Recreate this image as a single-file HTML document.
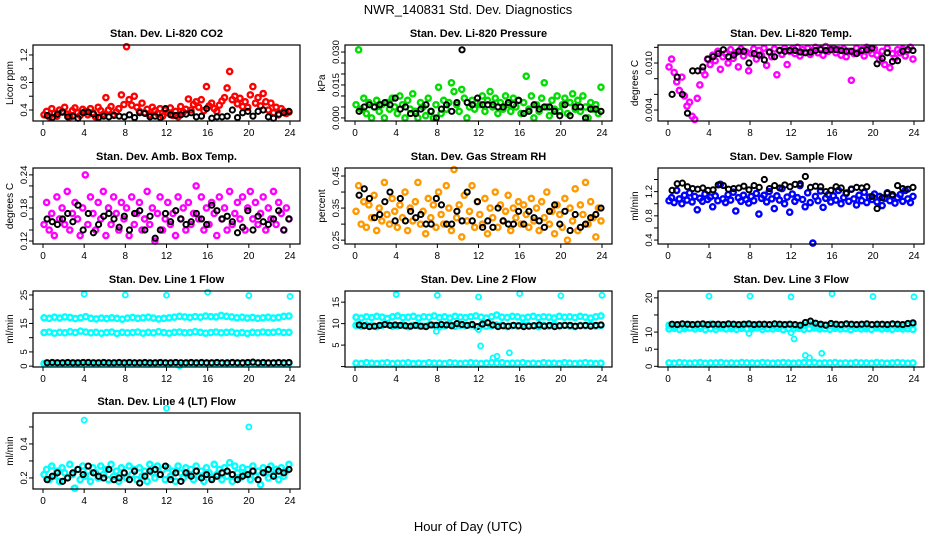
<!DOCTYPE html>
<html><head><meta charset="utf-8"><style>
body{margin:0;background:#fff}
svg{display:block;font-family:"Liberation Sans",sans-serif}
</style></head><body>
<svg id="chart" width="936" height="540" viewBox="0 0 936 540">
<text x="468" y="14" text-anchor="middle" font-size="13">NWR_140831  Std. Dev. Diagnostics</text>
<text x="468" y="531" text-anchor="middle" font-size="13">Hour of Day (UTC)</text>
</svg>
<script>
// ---- data ----
const xTicks=[0,4,8,12,16,20,24];
const co2Red=[0.33,0.38,0.30,0.42,0.35,0.31,0.40,0.37,0.44,0.34,0.30,0.39,0.43,0.36,0.32,0.41,
0.38,0.33,0.42,0.36,0.30,0.44,0.39,0.34,0.58,0.40,0.45,0.33,0.37,0.42,0.62,0.48,
1.32,0.55,0.47,0.60,0.44,0.38,0.50,0.36,0.41,0.33,0.44,0.39,0.35,0.42,0.31,0.40,
0.36,0.43,0.32,0.38,0.30,0.45,0.37,0.41,0.56,0.40,0.48,0.52,0.44,0.55,0.39,0.74,
0.46,0.50,0.42,0.38,0.47,0.53,0.58,0.72,0.96,0.55,0.60,0.49,0.57,0.45,0.52,0.44,
0.62,0.74,0.50,0.58,0.46,0.64,0.52,0.40,0.50,0.36,0.44,0.33,0.42,0.38,0.35,0.37];
const co2Black=[0.32,0.29,0.34,0.37,0.30,0.31,0.28,0.36,0.37,0.34,0.29,0.31,0.30,0.32,0.31,0.30,0.33,0.29,0.36,0.35,0.30,0.31,0.29,0.42,0.33,0.32,0.33,0.34,0.36,0.30,0.31,0.42,0.28,0.30,0.30,0.31,0.40,0.29,0.36,0.38,0.31,0.38,0.40,0.30,0.28,0.34,0.36,0.38];
const presGreen=[0.006,0.031,0.004,0.009,0.002,0.007,0.000,0.005,0.008,0.003,0.006,0.000,0.007,0.004,0.009,0.005,
0.002,0.010,0.006,0.000,0.008,0.004,0.011,0.003,0.000,0.007,0.005,0.001,0.009,0.003,0.000,0.006,
0.014,0.002,0.008,0.004,0.007,0.016,0.012,0.006,0.003,0.013,0.009,0.000,0.005,0.008,0.004,0.007,
0.006,0.010,0.003,0.008,0.012,0.005,0.009,0.002,0.007,0.004,0.010,0.006,0.003,0.009,0.005,0.008,
0.002,0.007,0.019,0.004,0.010,0.000,0.006,0.003,0.009,0.016,0.005,0.001,0.008,0.004,0.010,0.003,
0.006,0.009,0.002,0.007,0.011,0.004,0.008,0.003,0.010,0.005,0.000,0.007,0.004,0.006,0.002,0.014];
const presBlack=[0.003,0.005,0.006,0.005,0.006,0.007,0.006,0.009,0.004,0.005,0.002,0.002,0.004,0.006,0.003,0.000,0.004,0.006,0.003,0.007,0.031,0.007,0.006,0.009,0.006,0.006,0.006,0.005,0.005,0.007,0.006,0.008,0.002,0.003,0.006,0.004,0.005,0.005,0.003,0.001,0.006,0.001,0.005,0.005,0.000,0.004,0.004,0.003];
const tempMag=[0.0095,0.0105,0.0088,0.0076,0.0065,0.0082,0.0058,0.0045,0.0050,0.0032,0.0028,0.0055,0.0072,0.0090,0.0085,0.0105,
0.0098,0.0110,0.0103,0.0115,0.0092,0.0108,0.0112,0.0100,0.0117,0.0106,0.0113,0.0095,0.0118,0.0109,0.0114,0.0090,
0.0112,0.0118,0.0105,0.0116,0.0110,0.0119,0.0097,0.0114,0.0108,0.0118,0.0085,0.0116,0.0111,0.0119,0.0098,0.0115,
0.0118,0.0112,0.0120,0.0109,0.0117,0.0114,0.0119,0.0111,0.0116,0.0120,0.0113,0.0118,0.0110,0.0121,0.0115,0.0118,
0.0119,0.0113,0.0117,0.0110,0.0118,0.0108,0.0115,0.0078,0.0112,0.0119,0.0114,0.0117,0.0109,0.0120,0.0116,0.0112,
0.0118,0.0110,0.0104,0.0115,0.0098,0.0119,0.0094,0.0112,0.0106,0.0117,0.0113,0.0118,0.0109,0.0116,0.0120,0.0105];
const tempBlack=[0.0060,0.0082,0.0060,0.0036,0.0090,0.0090,0.0095,0.0105,0.0108,0.0112,0.0117,0.0108,0.0110,0.0115,0.0115,0.0100,0.0112,0.0110,0.0104,0.0114,0.0108,0.0116,0.0115,0.0116,0.0116,0.0114,0.0113,0.0114,0.0116,0.0117,0.0116,0.0117,0.0117,0.0116,0.0115,0.0115,0.0112,0.0116,0.0117,0.0119,0.0099,0.0106,0.0113,0.0102,0.0103,0.0115,0.0117,0.0116];
const ambMag=[0.15,0.19,0.14,0.17,0.13,0.20,0.16,0.18,0.15,0.21,0.14,0.17,0.19,0.16,0.13,0.18,
0.24,0.15,0.20,0.17,0.14,0.19,0.16,0.21,0.13,0.18,0.15,0.20,0.17,0.14,0.19,0.16,
0.18,0.13,0.20,0.15,0.17,0.19,0.14,0.16,0.21,0.15,0.18,0.12,0.17,0.20,0.14,0.16,
0.19,0.15,0.17,0.13,0.20,0.16,0.18,0.14,0.19,0.15,0.17,0.22,0.16,0.20,0.14,0.18,
0.15,0.19,0.17,0.13,0.20,0.16,0.18,0.14,0.21,0.15,0.17,0.19,0.16,0.20,0.14,0.18,
0.21,0.16,0.19,0.15,0.17,0.20,0.14,0.18,0.16,0.21,0.15,0.19,0.17,0.14,0.18,0.16];
const ambBlack=[0.16,0.155,0.15,0.16,0.17,0.155,0.185,0.14,0.17,0.135,0.15,0.165,0.17,0.16,0.145,0.165,0.14,0.17,0.175,0.14,0.165,0.125,0.14,0.17,0.155,0.175,0.16,0.15,0.155,0.17,0.16,0.15,0.185,0.175,0.16,0.165,0.155,0.135,0.145,0.175,0.14,0.165,0.155,0.15,0.16,0.175,0.14,0.16];
const rhOrange=[0.34,0.42,0.30,0.37,0.29,0.36,0.32,0.39,0.28,0.35,0.31,0.43,0.33,0.30,0.38,0.34,
0.29,0.36,0.32,0.40,0.28,0.35,0.31,0.37,0.43,0.30,0.34,0.27,0.38,0.32,0.36,0.29,
0.40,0.33,0.30,0.42,0.35,0.28,0.47,0.32,0.36,0.26,0.39,0.31,0.34,0.42,0.29,0.37,
0.33,0.30,0.38,0.27,0.35,0.32,0.40,0.29,0.36,0.31,0.34,0.39,0.28,0.35,0.32,0.37,
0.30,0.36,0.33,0.29,0.38,0.31,0.35,0.28,0.37,0.32,0.40,0.30,0.34,0.27,0.36,0.33,
0.29,0.38,0.25,0.35,0.31,0.41,0.28,0.36,0.33,0.43,0.30,0.37,0.32,0.26,0.35,0.31];
const rhBlack=[0.39,0.41,0.38,0.32,0.33,0.37,0.40,0.31,0.38,0.31,0.34,0.32,0.33,0.30,0.30,0.38,0.36,0.30,0.30,0.34,0.31,0.40,0.31,0.37,0.29,0.31,0.29,0.35,0.31,0.30,0.30,0.34,0.30,0.34,0.32,0.31,0.29,0.34,0.36,0.30,0.34,0.28,0.33,0.29,0.30,0.32,0.33,0.35];
const flowBlue=[1.05,1.10,1.02,1.22,1.08,1.00,1.14,1.06,1.18,1.03,1.12,0.90,1.09,1.04,1.16,1.07,
1.11,0.95,1.13,1.05,1.32,1.08,1.02,1.15,1.06,1.19,0.88,1.10,1.04,1.14,1.07,1.01,
1.12,1.05,1.17,0.83,1.09,1.14,1.03,1.20,1.08,0.92,1.13,1.06,1.25,1.00,1.11,0.86,
1.16,1.04,1.10,1.30,1.07,0.95,1.18,1.02,0.35,1.12,1.05,1.21,0.94,1.09,1.15,1.03,
1.13,1.06,1.22,1.00,1.10,1.17,1.04,1.24,1.08,0.98,1.14,1.05,1.19,1.02,1.11,1.07,
1.16,1.03,1.12,0.97,1.09,1.18,1.05,1.13,1.01,1.10,1.15,1.04,1.22,1.08,1.02,1.12];
const flowBlack=[1.22,1.33,1.34,1.28,1.25,1.24,1.26,1.22,1.23,1.31,1.30,1.24,1.25,1.26,1.29,1.23,1.30,1.27,1.40,1.25,1.30,1.26,1.31,1.28,1.32,1.33,1.45,1.27,1.29,1.28,1.20,1.22,1.28,1.26,1.18,1.24,1.27,1.26,1.28,1.12,0.92,1.10,1.17,1.15,1.30,1.25,1.24,1.27];
const l1Hi=[17.0,16.8,17.2,16.9,17.3,17.1,16.7,17.0,17.4,16.8,16.6,16.9,16.7,17.0,16.8,16.5,16.9,17.1,16.8,17.0,17.2,16.9,16.6,16.8,17.0,17.2,17.5,17.3,17.1,17.4,17.2,17.6,17.4,17.3,17.8,17.5,17.3,17.0,17.2,16.9,17.1,16.8,17.0,17.2,16.9,17.1,17.5,17.6];
const l1Mid=[11.8,12.0,11.6,11.9,11.7,12.1,11.8,12.3,12.0,11.7,11.9,11.6,11.8,12.0,11.5,11.9,11.7,11.8,12.0,11.6,11.9,11.7,12.1,11.8,11.6,11.9,12.0,11.7,11.8,12.1,11.9,11.6,11.8,12.0,11.7,11.9,12.0,11.6,11.8,11.5,11.9,11.7,12.0,11.8,11.9,12.1,11.8,11.9];
const l1Low=[0.9,0.8,1.0,0.9,0.8,0.9,1.0,0.8,0.9,0.9,1.0,0.8,0.9,0.8,1.0,0.9,0.9,0.8,1.0,0.9,0.8,0.9,1.0,0.9,0.8,0.9,0.2,0.9,1.0,0.8,0.9,0.9,1.0,0.8,0.9,0.8,1.0,0.9,0.9,0.8,1.0,0.9,0.8,0.9,1.0,0.9,0.8,0.9];
const l1Black=[1.2,1.3,1.2,1.2,1.3,1.2,1.2,1.3,1.3,1.2,1.2,1.3,1.2,1.2,1.3,1.2,1.3,1.2,1.2,1.3,1.2,1.2,1.3,1.2,1.2,1.3,1.2,1.2,1.3,1.2,1.3,1.2,1.2,1.3,1.2,1.2,1.3,1.2,1.2,1.3,1.4,1.2,1.3,1.2,1.2,1.3,1.2,1.3];
const l1OutHours=[4,8,12,16,20,24];
const l1OutVals=[25.3,25.0,24.9,26.0,24.8,24.5];
const l2Hi=[11.5,11.3,11.6,11.4,11.7,11.5,11.2,11.6,11.8,11.4,11.5,11.7,11.3,11.6,11.5,11.8,11.4,11.6,11.3,11.7,11.5,11.4,11.6,11.8,11.5,11.3,11.6,12.0,11.5,11.4,11.7,11.6,11.3,11.5,11.7,11.4,11.6,11.5,11.3,11.7,11.5,11.6,11.4,11.7,11.5,11.3,11.6,11.8];
const l2Mid=[9.6,9.4,9.7,9.5,9.3,9.6,9.8,9.4,9.5,9.7,9.3,9.6,9.5,9.4,9.7,9.6,9.3,9.5,9.8,9.4,9.6,9.5,9.7,9.3,9.6,9.4,9.5,9.7,9.6,9.3,9.5,9.4,9.7,9.6,9.5,9.3,9.6,9.4,9.7,9.5,9.6,9.4,9.3,9.6,9.5,9.7,9.4,9.6];
const l2Low=[0.8,0.7,0.9,0.8,0.7,0.8,0.9,0.7,0.8,0.8,0.9,0.7,0.8,0.7,0.9,0.8,0.8,0.7,0.9,0.8,0.7,0.8,0.9,0.8,0.7,0.8,0.9,0.8,0.9,0.7,0.8,0.8,0.9,0.7,0.8,0.7,0.9,0.8,0.8,0.7,0.9,0.8,0.7,0.8,0.9,0.8,0.7,0.8];
const l2Black=[9.7,9.5,9.3,9.4,9.6,9.8,9.6,9.7,9.6,9.5,9.4,9.6,9.4,9.3,9.7,9.6,9.8,9.7,9.5,10.0,9.8,9.6,9.8,9.3,9.9,10.2,9.7,9.3,9.5,9.4,9.6,9.5,9.3,9.4,9.5,9.7,9.4,9.6,9.3,9.5,9.6,9.6,9.4,9.5,9.6,9.4,9.6,9.7];
const l2OutHours=[4,8,12,16,20,24,12.2,13.4,13.8,15.0,7.9,12.0];
const l2OutVals=[16.8,16.6,16.2,17.0,16.5,16.6,4.8,2.0,2.4,3.2,8.2,8.6];
const l3Hi=[12.0,11.8,12.1,11.7,12.2,11.9,11.6,12.0,12.3,11.8,11.9,12.1,11.7,12.0,11.9,12.2,11.8,12.0,11.7,12.1,11.9,11.8,12.0,12.2,11.9,11.7,12.0,12.4,11.9,11.8,12.1,12.0,11.7,11.9,12.1,11.8,12.0,11.9,11.7,12.1,11.9,12.0,11.8,12.1,11.9,11.7,12.0,12.2];
const l3Mid=[10.9,11.1,10.8,11.0,11.2,10.9,11.1,10.7,11.0,10.8,11.2,10.9,11.0,10.8,11.1,10.9,11.0,11.2,10.8,11.0,10.9,11.1,10.7,11.0,10.9,11.1,10.8,11.0,11.2,10.9,11.0,10.8,11.1,10.9,11.0,10.7,11.1,10.9,11.0,10.8,11.2,10.9,11.0,10.8,11.1,10.9,11.0,10.8];
const l3Low=[1.0,0.9,1.1,1.0,0.9,1.0,1.1,0.9,1.0,1.0,1.1,0.9,1.0,0.9,1.1,1.0,1.0,0.9,1.1,1.0,0.9,1.0,1.1,1.0,0.9,1.0,1.1,1.0,1.1,0.9,1.0,1.0,1.1,0.9,1.0,0.9,1.1,1.0,1.0,0.9,1.1,1.0,0.9,1.0,1.1,1.0,0.9,1.0];
const l3Black=[12.3,12.2,12.4,12.3,12.2,12.3,12.4,12.2,12.3,12.3,12.2,12.4,12.3,12.2,12.3,12.4,12.2,12.3,12.3,12.2,12.4,12.3,12.2,12.3,12.2,12.0,12.8,13.2,12.6,12.3,12.0,12.5,12.3,12.2,12.4,12.3,12.2,12.3,12.4,12.2,12.3,12.3,12.2,12.4,12.3,12.2,12.5,12.7];
const l3OutHours=[4,8,12,16,20,24,12.3,13.4,13.8,15.0,7.9,12.0];
const l3OutVals=[20.5,20.5,20.3,21.2,20.4,20.3,8.0,3.2,2.5,3.8,9.6,9.8];
const l4Cyan=[0.22,0.25,0.19,0.27,0.21,0.24,0.18,0.26,0.23,0.20,0.28,0.22,0.14,0.25,0.19,0.27,
0.21,0.24,0.18,0.26,0.23,0.20,0.27,0.22,0.25,0.19,0.28,0.21,0.24,0.18,0.26,0.23,
0.20,0.27,0.22,0.25,0.19,0.26,0.21,0.24,0.18,0.28,0.23,0.20,0.27,0.22,0.25,0.19,
0.26,0.21,0.24,0.18,0.27,0.23,0.20,0.26,0.22,0.25,0.19,0.27,0.21,0.24,0.18,0.26,
0.23,0.20,0.28,0.22,0.25,0.19,0.26,0.21,0.29,0.18,0.27,0.23,0.20,0.26,0.22,0.25,
0.19,0.27,0.21,0.24,0.16,0.26,0.23,0.20,0.27,0.22,0.25,0.19,0.26,0.21,0.24,0.28];
const l4Black=[0.19,0.21,0.23,0.18,0.20,0.23,0.25,0.22,0.27,0.23,0.21,0.20,0.25,0.19,0.20,0.23,0.19,0.24,0.17,0.21,0.24,0.25,0.22,0.27,0.19,0.23,0.18,0.23,0.21,0.24,0.20,0.22,0.19,0.21,0.23,0.24,0.22,0.19,0.21,0.22,0.24,0.19,0.23,0.25,0.21,0.24,0.23,0.25];
const l4OutHours=[4,12,20,3];
const l4OutVals=[0.54,0.61,0.50,0.14];

// ---- drawing ----
const NS='http://www.w3.org/2000/svg';
const svg=document.getElementById('chart');
function mk(tag,attrs,parent){const e=document.createElementNS(NS,tag);for(const k in attrs)e.setAttribute(k,attrs[k]);(parent||svg).appendChild(e);return e;}
const colX0=[43,355,668], colX24=[290,602,914], rowTop=[45,168,291,413], H=76;

function panel(p){
  const x0=colX0[p.col],x24=colX24[p.col],top=rowTop[p.row],bot=top+H;
  const left=x0-10,right=x24+10;
  const xs=h=>x0+(h/24)*(x24-x0);
  const ys=v=>bot-(v-p.ymin)/(p.ymax-p.ymin)*H;
  const g=mk('g',{});
  
  
  const t=mk('text',{x:(left+right)/2,y:top-8,'text-anchor':'middle','font-size':11,'font-weight':'bold'},g);
  
  
  t.textContent=p.title;
  const yt=mk('text',{x:0,y:0,'text-anchor':'middle','font-size':10,transform:`translate(${left-20},${(top+bot)/2}) rotate(-90)`},g);
  
  
  yt.textContent=p.ylab;
  xTicks.forEach(h=>{
    const X=xs(h);
    const tk=mk('line',{x1:X,x2:X,y1:bot,y2:bot+4,stroke:'#000','stroke-width':1},g);
    
    
    const l=mk('text',{x:X,y:bot+15,'text-anchor':'middle','font-size':10},g);
    
    
    l.textContent=h;
  });
  p.yticks.forEach((v,i)=>{
    const Y=ys(v);
    const tk=mk('line',{x1:left,x2:left-4,y1:Y,y2:Y,stroke:'#000','stroke-width':1},g);
    
    
    if(p.ylabels[i]){
      const l=mk('text',{x:0,y:0,'text-anchor':'middle','font-size':9.5,transform:`translate(${left-6},${Y}) rotate(-90)`},g);
      
      
      l.textContent=p.ylabels[i];
    }
  });
  const cg=mk('g',{},g);
  p.series.forEach(s=>{
    const n=s.vals.length;
    s.vals.forEach((v,i)=>{
      const h=s.start+i*(s.end-s.start)/(n-1);
      const c=mk('circle',{cx:xs(h),cy:ys(v),r:2.6,fill:'none',stroke:s.color,'stroke-width':s.w||2.2},cg);
      
      
    });
  });
  (p.out||[]).forEach(o=>{
    o.hours.forEach((h,i)=>{
      const c=mk('circle',{cx:xs(h),cy:ys(o.vals[i]),r:2.5,fill:'none',stroke:o.color,'stroke-width':1.8},cg);
      
      
    });
  });
  const box=mk('rect',{x:left,y:top,width:right-left,height:H,fill:'none',stroke:'#000','stroke-width':1.2},g);
  
  
}
const C=(vals,color,start,end)=>({vals,color,start:start??0.1,end:end??23.9,w:2.4});
const K=vals=>({vals,color:'#000',start:0.4,end:23.9,w:2});
panel({name:'co2',col:0,row:0,title:'Stan. Dev. Li-820 CO2',ylab:'Licor ppm',ymin:0.24,ymax:1.345,yticks:[0.4,0.6,0.8,1.0,1.2],ylabels:['0.4','','0.8','','1.2'],series:[C(co2Red,'#ff0000'),K(co2Black)]});
panel({name:'pressure',col:1,row:0,title:'Stan. Dev. Li-820 Pressure',ylab:'kPa',ymin:-0.0014,ymax:0.0332,yticks:[0,0.005,0.01,0.015,0.02,0.025,0.03],ylabels:['0.000','','','0.015','','','0.030'],series:[C(presGreen,'#00dd00'),K(presBlack)]});
panel({name:'licor-temp',col:2,row:0,title:'Stan. Dev. Li-820 Temp.',ylab:'degrees C',ymin:0.0026,ymax:0.0123,yticks:[0.004,0.006,0.008,0.010,0.012],ylabels:['0.004','','','0.010',''],series:[C(tempMag,'#ff00ff'),K(tempBlack)]});
panel({name:'amb-box-temp',col:0,row:1,title:'Stan. Dev. Amb. Box Temp.',ylab:'degrees C',ymin:0.1146,ymax:0.2525,yticks:[0.12,0.14,0.16,0.18,0.20,0.22,0.24],ylabels:['0.12','','','0.18','','','0.24'],series:[C(ambMag,'#ff00ff'),K(ambBlack)]});
panel({name:'gas-rh',col:1,row:1,title:'Stan. Dev. Gas Stream RH',ylab:'percent',ymin:0.238,ymax:0.475,yticks:[0.25,0.30,0.35,0.40,0.45],ylabels:['0.25','','0.35','','0.45'],series:[C(rhOrange,'#ff9900'),K(rhBlack)]});
panel({name:'sample-flow',col:2,row:1,title:'Stan. Dev. Sample Flow',ylab:'ml/min',ymin:0.335,ymax:1.59,yticks:[0.4,0.6,0.8,1.0,1.2,1.4],ylabels:['0.4','','0.8','','1.2',''],series:[C(flowBlue,'#0000ff'),K(flowBlack)]});
panel({name:'line1-flow',col:0,row:2,title:'Stan. Dev. Line 1 Flow',ylab:'ml/min',ymin:-0.3,ymax:26.4,yticks:[0,5,10,15,20,25],ylabels:['0','5','','15','','25'],series:[C(l1Hi,'#00ffff'),C(l1Mid,'#00ffff'),C(l1Low,'#00ffff'),K(l1Black)],out:[{hours:l1OutHours,vals:l1OutVals,color:'#00ffff'}]});
panel({name:'line2-flow',col:1,row:2,title:'Stan. Dev. Line 2 Flow',ylab:'ml/min',ymin:-0.1,ymax:17.6,yticks:[0,5,10,15],ylabels:['','5','10','15'],series:[C(l2Hi,'#00ffff'),C(l2Mid,'#00ffff'),C(l2Low,'#00ffff'),K(l2Black)],out:[{hours:l2OutHours,vals:l2OutVals,color:'#00ffff'}]});
panel({name:'line3-flow',col:2,row:2,title:'Stan. Dev. Line 3 Flow',ylab:'ml/min',ymin:-0.2,ymax:22,yticks:[0,5,10,15,20],ylabels:['0','5','10','','20'],series:[C(l3Hi,'#00ffff'),C(l3Mid,'#00ffff'),C(l3Low,'#00ffff'),K(l3Black)],out:[{hours:l3OutHours,vals:l3OutVals,color:'#00ffff'}]});
panel({name:'line4-flow',col:0,row:3,title:'Stan. Dev. Line 4 (LT) Flow',ylab:'ml/min',ymin:0.135,ymax:0.582,yticks:[0.2,0.3,0.4,0.5],ylabels:['0.2','','0.4',''],series:[C(l4Cyan,'#00ffff'),K(l4Black)],out:[{hours:l4OutHours,vals:l4OutVals,color:'#00ffff'}]});
</script>
</body></html>
